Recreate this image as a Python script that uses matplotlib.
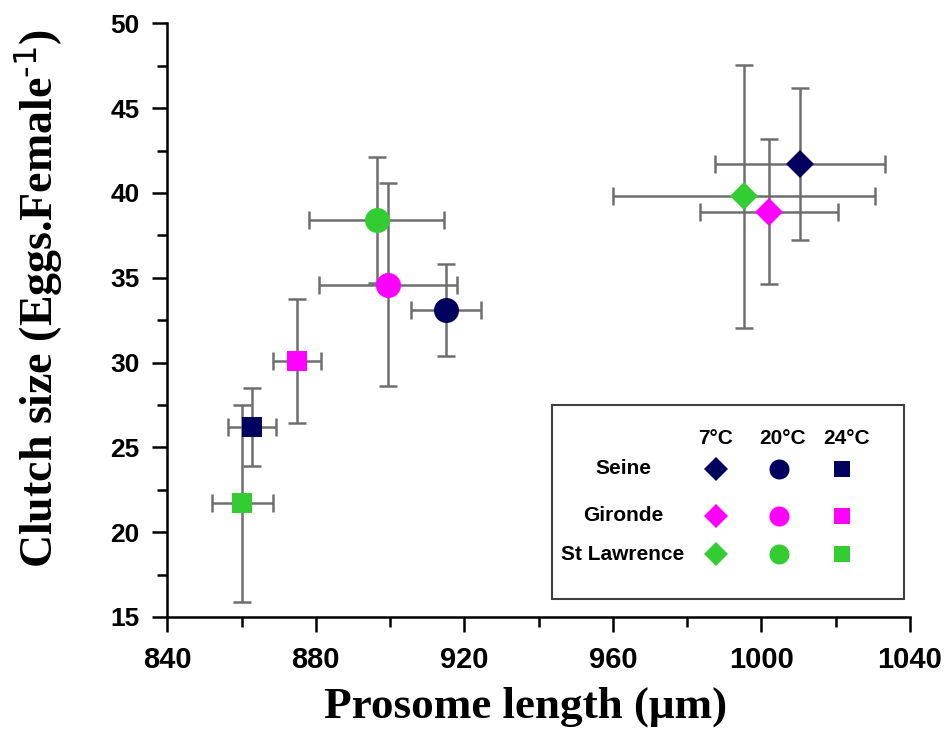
import matplotlib
matplotlib.use("Agg")
import matplotlib.pyplot as plt
from matplotlib.patches import Rectangle
from matplotlib.ticker import MultipleLocator

# data: (site, temperature) -> mean +/- sd
SITES = ["Seine", "Gironde", "St Lawrence"]
TEMPS = ["7°C", "20°C", "24°C"]
SITE_COLORS = ["#00005e", "#ff00ff", "#33cc33"]
TEMP_MARKERS = ["D", "o", "s"]
MARKER_SIZES = [14.3, 18, 14.4]
LEGEND_SIZES = [12.7, 14.4, 11.5]

# rows = sites, cols = temperatures
length = [[1010.5, 915.0, 862.9],
          [1002.0, 899.4, 875.0],
          [995.3, 896.4, 860.2]]
length_sd = [[22.9, 9.4, 6.5],
             [18.5, 18.5, 6.5],
             [35.2, 18.2, 8.2]]
clutch = [[41.7, 33.1, 26.2],
          [38.9, 34.6, 30.1],
          [39.8, 38.4, 21.7]]
clutch_sd = [[4.5, 2.73, 2.3],
             [4.25, 6.0, 3.66],
             [7.75, 3.7, 5.8]]

plt.rcParams["mathtext.default"] = "regular"

W, H = 948, 749
fig = plt.figure(figsize=(W / 100, H / 100), dpi=100)
ax = fig.add_axes([167.3 / W, 1 - 617 / H, 742.7 / W, 593.7 / H])

# error bars first, markers on top
for i in range(3):
    for j in range(3):
        ax.errorbar(length[i][j], clutch[i][j],
                    xerr=length_sd[i][j], yerr=clutch_sd[i][j],
                    fmt="none", ecolor="#6e6e6e", elinewidth=1.8,
                    capsize=6.5, capthick=1.8, zorder=2)
for i in range(3):
    for j in range(3):
        ax.plot(length[i][j], clutch[i][j], linestyle="none",
                marker=TEMP_MARKERS[j], markersize=MARKER_SIZES[j],
                color=SITE_COLORS[i], markeredgewidth=0, zorder=3)

ax.set_xlim(840, 1040)
ax.set_ylim(15, 50)
ax.xaxis.set_major_locator(MultipleLocator(40))
ax.xaxis.set_minor_locator(MultipleLocator(20))
ax.yaxis.set_major_locator(MultipleLocator(5))
ax.yaxis.set_minor_locator(MultipleLocator(2.5))
for s in ["top", "right"]:
    ax.spines[s].set_visible(False)
for s in ["left", "bottom"]:
    ax.spines[s].set_linewidth(1.8)
ax.tick_params(which="major", length=11, width=1.8, direction="out")
ax.tick_params(which="minor", length=7, width=1.8, direction="out")
ax.tick_params(axis="x", pad=10)
ax.tick_params(axis="y", pad=9)
for lab in ax.get_xticklabels():
    lab.set_fontfamily("Liberation Sans")
    lab.set_fontweight("bold")
    lab.set_fontsize(21)
for lab in ax.get_yticklabels():
    lab.set_fontfamily("Liberation Sans")
    lab.set_fontweight("bold")
    lab.set_fontsize(19)

ax.set_xlabel("Prosome length (μm)", family="Liberation Serif",
              fontweight="bold", fontsize=32.5)
ax.xaxis.set_label_coords(0.483, -0.117)
ax.set_ylabel(r"Clutch size (Eggs.Female$^{\text{-1}}$)",
              family="Liberation Serif", fontweight="bold", fontsize=33)
ax.yaxis.set_label_coords(-0.1377, 0.537)


# legend drawn by hand, positions in reference pixels
def px(x, y):
    return x / W, 1 - y / H


x0, y0 = px(552, 599)
x1, y1 = px(904, 405)
fig.patches.append(Rectangle((x0, y0), x1 - x0, y1 - y0,
                             transform=fig.transFigure, facecolor="white",
                             edgecolor="#404040", linewidth=1.5, zorder=4))
col_x = [715.7, 779.3, 841.7]
head_x = [715.7, 783, 847]
row_y = [469, 515.7, 554]
for j, t in enumerate(TEMPS):
    fig.text(*px(head_x[j], 438), t, ha="center", va="center",
             family="Liberation Sans", fontweight="bold", fontsize=15,
             zorder=5)
for i, site in enumerate(SITES):
    fig.text(*px(623, row_y[i]), site, ha="center", va="center",
             family="Liberation Sans", fontweight="bold", fontsize=15,
             zorder=5)
    for j in range(3):
        fig.lines.append(plt.Line2D([px(col_x[j], 0)[0]], [px(0, row_y[i])[1]],
                                    transform=fig.transFigure,
                                    marker=TEMP_MARKERS[j],
                                    markersize=LEGEND_SIZES[j],
                                    color=SITE_COLORS[i], markeredgewidth=0,
                                    linestyle="none", zorder=5))

fig.savefig("out.png", dpi=100, facecolor="white")
